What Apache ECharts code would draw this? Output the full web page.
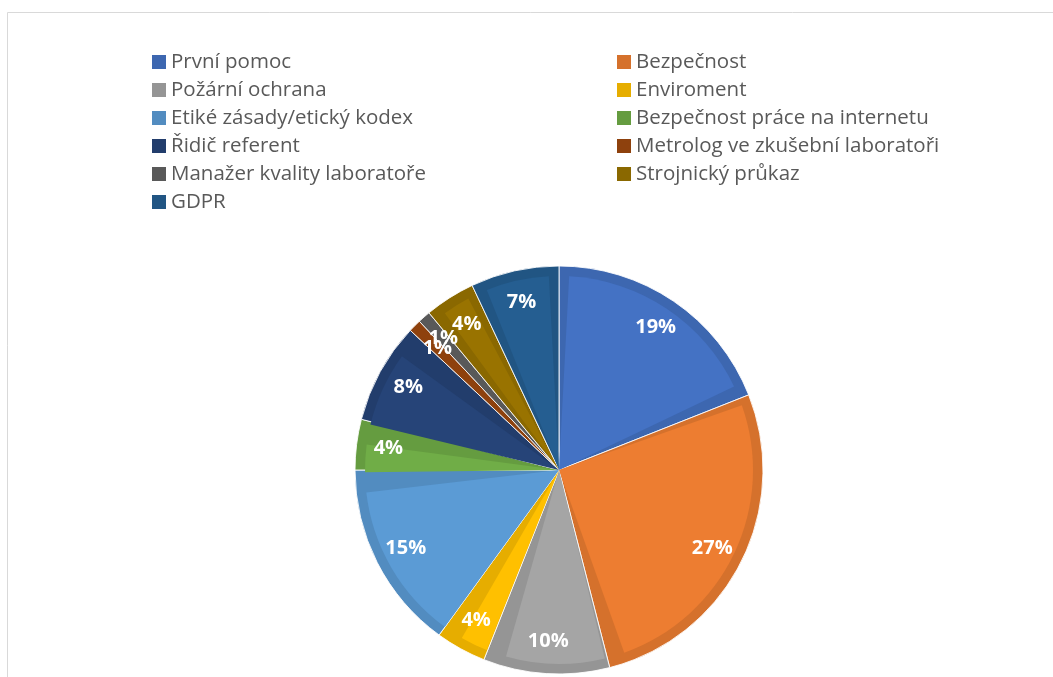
<!DOCTYPE html>
<html>
<head>
<meta charset="utf-8">
<script src="https://cdn.jsdelivr.net/npm/echarts@6/dist/echarts.min.js"></script>
<style>
html,body{margin:0;padding:0;background:#fff;}
#chart{width:1053px;height:677px;}
</style>
</head>
<body>
<div id="chart"></div>
<script>
const categories = [
  'První pomoc', 'Bezpečnost', 'Požární ochrana', 'Enviroment',
  'Etiké zásady/etický kodex', 'Bezpečnost práce na internetu',
  'Řidič referent', 'Metrolog ve zkušební laboratoři',
  'Manažer kvality laboratoře', 'Strojnický průkaz', 'GDPR'
];
const values = [19, 27, 10, 4, 15, 4, 8, 1, 1, 4, 7];
const fillColors = ['#4472C4', '#ED7D31', '#A5A5A5', '#FFC000', '#5B9BD5', '#70AD47',
  '#264478', '#9E480E', '#636363', '#997300', '#255E91'];
const edgeColors = ['#3D67B0', '#D5712C', '#959595', '#E6AD00', '#528CC0', '#659C40',
  '#223D6C', '#8E410D', '#595959', '#8A6800', '#215583'];

const legendLeft = categories.filter((c, i) => i % 2 === 0);
const legendRight = categories.filter((c, i) => i % 2 === 1);

const center = [559, 470];
const R = 204;

function mk(colors) {
  return categories.map((name, i) => ({ name: name, value: values[i], itemStyle: { color: colors[i] } }));
}

const legendCommon = {
  orient: 'vertical',
  top: 48,
  padding: 0,
  itemGap: 0,
  itemWidth: 14,
  itemHeight: 14,
  icon: 'rect',
  selectedMode: false,
  itemStyle: { borderWidth: 0 },
  textStyle: { fontFamily: 'Open Sans', fontSize: 20.5, color: '#595959', lineHeight: 28 }
};

const labelStyle = {
  show: true,
  position: 'inside',
  formatter: '{c}%',
  color: '#ffffff',
  fontFamily: 'Open Sans',
  fontWeight: 'bold',
  fontSize: 20
};

// label rings: the second ring carries only the label that would collide
const labelSplit = 8;
function labelData(showFn) {
  return categories.map((name, i) => ({
    name: name, value: values[i], label: { show: showFn(i) }
  }));
}

const chart = echarts.init(document.getElementById('chart'), null, { renderer: 'canvas' });
chart.setOption({
  animation: false,
  backgroundColor: '#ffffff',
  graphic: [{
    type: 'rect',
    shape: { x: 7.5, y: 12.5, width: 1100, height: 700 },
    style: { fill: null, stroke: '#d9d9d9', lineWidth: 1 },
    silent: true
  }],
  legend: [
    Object.assign({ left: 152, data: legendLeft }, legendCommon),
    Object.assign({ left: 617, data: legendRight }, legendCommon)
  ],
  series: [
    {
      type: 'pie',
      center: center,
      radius: [0, R],
      startAngle: 90,
      clockwise: true,
      silent: true,
      label: { show: false },
      labelLine: { show: false },
      itemStyle: { borderColor: 'rgba(255,255,255,0.85)', borderWidth: 1 },
      data: mk(edgeColors)
    },
    {
      type: 'pie',
      center: center,
      radius: [0, R - 10],
      startAngle: 90,
      clockwise: true,
      padAngle: 6,
      silent: true,
      label: { show: false },
      labelLine: { show: false },
      data: mk(fillColors)
    },
    {
      type: 'pie',
      center: center,
      radius: [134, R],
      startAngle: 90,
      clockwise: true,
      silent: true,
      avoidLabelOverlap: false,
      labelLayout: { hideOverlap: false },
      itemStyle: { color: 'rgba(0,0,0,0)', borderWidth: 0 },
      label: labelStyle,
      labelLine: { show: false },
      data: labelData(i => i !== labelSplit)
    },
    {
      type: 'pie',
      center: center,
      radius: [140, R],
      startAngle: 90,
      clockwise: true,
      silent: true,
      avoidLabelOverlap: false,
      labelLayout: { hideOverlap: false },
      itemStyle: { color: 'rgba(0,0,0,0)', borderWidth: 0 },
      label: labelStyle,
      labelLine: { show: false },
      data: labelData(i => i === labelSplit)
    }
  ]
});
</script>
</body>
</html>
